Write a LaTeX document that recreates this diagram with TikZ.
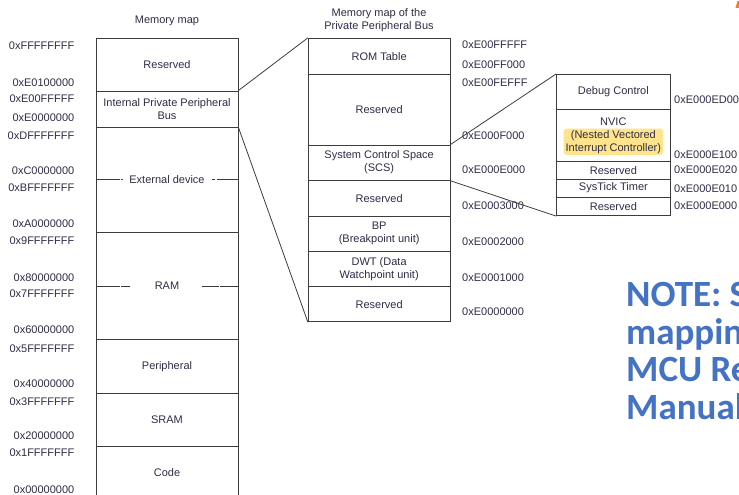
\documentclass[tikz,border=0pt]{standalone}
\usepackage{fontspec}
\setmainfont{Liberation Sans}
\newfontfamily\notefont{Carlito}
\definecolor{boxline}{RGB}{60,60,60}
\definecolor{txtcol}{RGB}{45,45,70}
\definecolor{notecol}{RGB}{68,114,196}
\definecolor{hilite}{RGB}{255,228,140}
\definecolor{tabcol}{RGB}{237,125,49}

\begin{document}
\begin{tikzpicture}[x=1pt,y=-1pt,
  every node/.style={font=\fontsize{11}{13}\selectfont, text=txtcol, inner sep=0pt, align=center},
  mapbox/.style={draw=boxline, line width=0.9pt},
  mainrow/.style={mapbox, minimum width=142pt},
  ppbrow/.style={mapbox, minimum width=141.7pt},
  dbgrow/.style={mapbox, minimum width=113.3pt},
  addr/.style={text=txtcol},
  link/.style={draw=boxline, line width=0.8pt},
  sep/.style={draw=boxline, line width=0.8pt},
  hl/.style={fill=hilite, rounded corners=3pt, inner xsep=2pt, inner ysep=1.5pt},
  note/.style={font=\notefont\bfseries\fontsize{37}{40}\selectfont, text=notecol, anchor=base west}]
  \useasboundingbox (0,0) rectangle (739,495);
  \clip (0,0) rectangle (739,495);
  \fill[white] (0,0) rectangle (739,495);
  \node (t1) at (167,20.7) {Memory map};
  \node (t2) at (379,20.5) {Memory map of the\\Private Peripheral Bus};
  \node[mainrow, minimum height=52.7pt] (mres) at (167,64.65) {Reserved};
  \node[mainrow, minimum height=36pt] (ippb) at (167,109) {Internal Private Peripheral\\Bus};
  \node[mainrow, minimum height=105.7pt] (ext) at (167,179.85) {External device};
  \node[mainrow, minimum height=106.6pt] (ram) at (167,286) {RAM};
  \node[mainrow, minimum height=54pt] (periph) at (167,366.3) {Peripheral};
  \node[mainrow, minimum height=52.7pt] (sram) at (167,419.65) {SRAM};
  \node[mainrow, minimum height=54pt] (code) at (167,473) {Code};
  \draw[sep] (ext.west) -- ++(24,0) ++(1,0) -- ++(2.5,0);
  \draw[sep] (ext.east) -- ++(-21.5,0) ++(-1.5,0) -- ++(-3,0);
  \draw[sep] (ram.west) -- ++(24,0) ++(1.7,0) -- ++(9,0);
  \draw[sep] (ram.east) -- ++(-18,0) ++(-1.7,0) -- ++(-16.3,0);
  \node[addr, anchor=east] (l1) at (74.5,45.5) {0xFFFFFFFF};
  \node[addr, anchor=east] (l2) at (74.5,82.3) {0xE0100000};
  \node[addr, anchor=east] (l3) at (74.5,99) {0xE00FFFFF};
  \node[addr, anchor=east] (l4) at (74.5,117.3) {0xE0000000};
  \node[addr, anchor=east] (l5) at (74.5,135.7) {0xDFFFFFFF};
  \node[addr, anchor=east] (l6) at (74.5,170.7) {0xC0000000};
  \node[addr, anchor=east] (l7) at (74.5,187.7) {0xBFFFFFFF};
  \node[addr, anchor=east] (l8) at (74.5,224) {0xA0000000};
  \node[addr, anchor=east] (l9) at (74.5,240.5) {0x9FFFFFFF};
  \node[addr, anchor=east] (l10) at (74.5,277.3) {0x80000000};
  \node[addr, anchor=east] (l11) at (74.5,294) {0x7FFFFFFF};
  \node[addr, anchor=east] (l12) at (74.5,330) {0x60000000};
  \node[addr, anchor=east] (l13) at (74.5,348.3) {0x5FFFFFFF};
  \node[addr, anchor=east] (l14) at (74.5,383.3) {0x40000000};
  \node[addr, anchor=east] (l15) at (74.5,401.7) {0x3FFFFFFF};
  \node[addr, anchor=east] (l16) at (74.5,435.7) {0x20000000};
  \node[addr, anchor=east] (l17) at (74.5,452.7) {0x1FFFFFFF};
  \node[addr, anchor=east] (l18) at (74.5,489.3) {0x00000000};
  \node[ppbrow, minimum height=35.7pt] (rom) at (379.15,56.15) {ROM Table};
  \node[ppbrow, minimum height=71pt] (pres1) at (379.15,109.5) {Reserved};
  \node[ppbrow, minimum height=35.3pt] (scs) at (379.15,162.65) {System Control Space\\(SCS)};
  \node[ppbrow, minimum height=35.7pt] (pres2) at (379.15,198.15) {Reserved};
  \node[ppbrow, minimum height=35pt] (bp) at (379.15,233.5) {BP\\(Breakpoint unit)};
  \node[ppbrow, minimum height=35.7pt] (dwt) at (379.15,268.85) {DWT (Data\\Watchpoint unit)};
  \node[ppbrow, minimum height=35pt] (pres3) at (379.15,304.2) {Reserved};
  \node[addr, anchor=west] (p1) at (462,45) {0xE00FFFFF};
  \node[addr, anchor=west] (p2) at (462,64.3) {0xE00FF000};
  \node[addr, anchor=west] (p3) at (462,82.3) {0xE00FEFFF};
  \node[addr, anchor=west] (p4) at (462,136) {0xE000F000};
  \node[addr, anchor=west] (p5) at (462,170) {0xE000E000};
  \node[addr, anchor=west] (p6) at (462,205.7) {0xE0003000};
  \node[addr, anchor=west] (p7) at (462,241.7) {0xE0002000};
  \node[addr, anchor=west] (p8) at (462,277.3) {0xE0001000};
  \node[addr, anchor=west] (p9) at (462,311.7) {0xE0000000};
  \node[dbgrow, minimum height=34.7pt] (dbg) at (613.35,91.65) {Debug Control};
  \node[dbgrow, minimum height=52.7pt] (nvic) at (613.35,135.35) {};
  \node (nvicname) at (613.35,121.7) {NVIC};
  \node[hl] (nvicfull) at (613.35,141.7) {(Nested Vectored\\Interrupt Controller)};
  \node[dbgrow, minimum height=17.6pt] (dres1) at (613.35,170.5) {Reserved};
  \node[dbgrow, minimum height=17.7pt] (systick) at (613.35,188.15) {SysTick Timer};
  \node[dbgrow, minimum height=18.7pt] (dres2) at (613.35,206.35) {Reserved};
  \node[addr, anchor=west] (d1) at (674,99.3) {0xE000ED00};
  \node[addr, anchor=west] (d2) at (674,155) {0xE000E100};
  \node[addr, anchor=west] (d3) at (674,170) {0xE000E020};
  \node[addr, anchor=west] (d4) at (674,188.3) {0xE000E010};
  \node[addr, anchor=west] (d5) at (674,206) {0xE000E000};
  \draw[link] (ippb.north east) -- (rom.north west);
  \draw[link] (ippb.south east) -- (pres3.south west);
  \draw[link] (scs.north east) -- (dbg.north west);
  \draw[link] (scs.south east) -- (dres2.south west);
  \node[note] (n1) at (626,306.5) {NOTE: S};
  \node[note] (n2) at (626,344) {mappin};
  \node[note] (n3) at (626,381.5) {MCU Re};
  \node[note] (n4) at (626,419) {Manual};
  \fill[tabcol] (735.5,8) -- (737.5,1) -- (739,1) -- (739,8) -- cycle;
\end{tikzpicture}
\end{document}
